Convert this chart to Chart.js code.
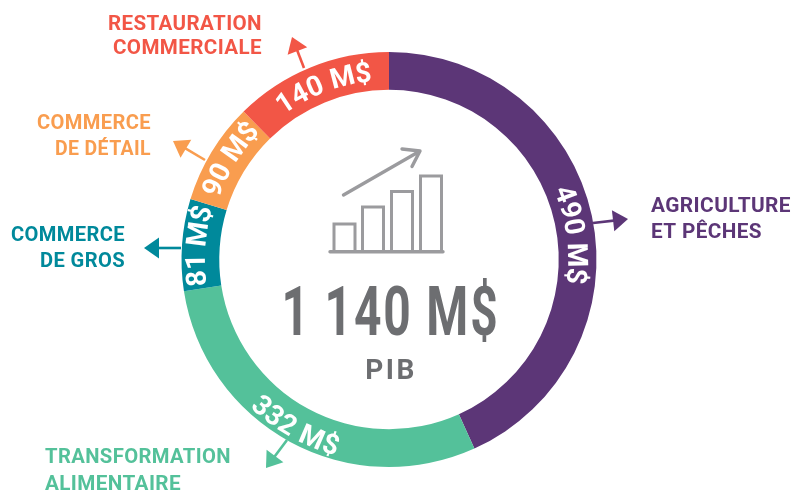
<!DOCTYPE html>
<html>
<head>
<meta charset="utf-8">
<style>
  html, body { margin: 0; background: #fff; }
  canvas { display: block; }
</style>
<script src="https://cdn.jsdelivr.net/npm/chart.js@4"></script>
</head>
<body>
<canvas id="chart-pib" width="794" height="494"></canvas>
<script>
const categories = ['Agriculture et pêches', 'Transformation alimentaire', 'Commerce de gros', 'Commerce de détail', 'Restauration commerciale'];
const values = [490, 332, 81, 90, 140];
const valueLabels = ['490 M$', '332 M$', '81 M$', '90 M$', '140 M$'];
const sliceColors = ['#5c3677', '#54c19a', '#00899b', '#f99d4f', '#f25646'];

const FONT = 'Roboto, sans-serif';

// settings for the text that follows the ring, same order as the values
const arcText = [
  { shift: 4.5, radius: 189, size: 28, gap: 0.8, inward: false },
  { shift: 0.8, radius: 193, size: 28, gap: 0, inward: true },
  { shift: 0, radius: 194, size: 28, gap: 0.4, inward: false },
  { shift: 1, radius: 191, size: 28, gap: 0.6, inward: false },
  { shift: 1.5, radius: 189, size: 28, gap: 1.0, inward: false }
];

// widths are the widest each line may get, the font runs a bit wider than the original
const sideLabels = [
  { lines: ['AGRICULTURE', 'ET PÊCHES'], widths: [140, 111], x: 651, y: [212, 238], align: 'left', color: sliceColors[0], arrow: [593, 223, 628, 219] },
  { lines: ['TRANSFORMATION', 'ALIMENTAIRE'], widths: [186, 136], x: 45, y: [463, 490], align: 'left', color: sliceColors[1], arrow: [287, 440, 266, 468] },
  { lines: ['COMMERCE', 'DE GROS'], widths: [114, 85], x: 125, y: [241, 267], align: 'right', color: sliceColors[2], arrow: [181, 248, 144, 248] },
  { lines: ['COMMERCE', 'DE DÉTAIL'], widths: [114, 96], x: 151, y: [129, 155], align: 'right', color: sliceColors[3], arrow: [205, 160, 173, 141] },
  { lines: ['RESTAURATION', 'COMMERCIALE'], widths: [154, 149], x: 262, y: [30, 54], align: 'right', color: sliceColors[4], arrow: [304, 68, 292, 37] }
];

function drawArrow(ctx, [x1, y1, x2, y2], color) {
  const a = Math.atan2(y2 - y1, x2 - x1);
  ctx.save();
  ctx.strokeStyle = color;
  ctx.fillStyle = color;
  ctx.lineWidth = 2.6;
  ctx.beginPath();
  ctx.moveTo(x1, y1);
  ctx.lineTo(x2 - 10 * Math.cos(a), y2 - 10 * Math.sin(a));
  ctx.stroke();
  ctx.translate(x2, y2);
  ctx.rotate(a);
  ctx.beginPath();
  ctx.moveTo(0, 0);
  ctx.lineTo(-15, -10.5);
  ctx.lineTo(-15, 10.5);
  ctx.closePath();
  ctx.fill();
  ctx.restore();
}

function drawArcText(ctx, arc, text, cfg) {
  const mid = (arc.startAngle + arc.endAngle) / 2 + Math.PI / 2 + cfg.shift * Math.PI / 180;
  ctx.save();
  ctx.font = `700 ${cfg.size}px ${FONT}`;
  ctx.fillStyle = '#fff';
  ctx.textAlign = 'center';
  ctx.textBaseline = 'alphabetic';
  const widths = [...text].map(c => ctx.measureText(c).width + cfg.gap);
  const total = widths.reduce((a, b) => a + b, 0);
  let run = -total / 2;
  [...text].forEach((c, i) => {
    const along = (run + widths[i] / 2) / cfg.radius;
    const angle = cfg.inward ? mid - along : mid + along;
    ctx.save();
    ctx.translate(arc.x, arc.y);
    ctx.rotate(angle);
    ctx.translate(0, -cfg.radius);
    if (cfg.inward) ctx.rotate(Math.PI);
    ctx.fillText(c, 0, cfg.size * 0.355);
    ctx.restore();
    run += widths[i];
  });
  ctx.restore();
}

function drawIcon(ctx) {
  ctx.save();
  ctx.strokeStyle = '#9b9b9e';
  ctx.lineWidth = 3;
  [[334, 224, 21], [362.5, 207, 21], [391.5, 191.5, 21], [420.5, 176, 21]].forEach(([x, y, w]) => {
    ctx.beginPath();
    ctx.moveTo(x, 251);
    ctx.lineTo(x, y);
    ctx.lineTo(x + w, y);
    ctx.lineTo(x + w, 251);
    ctx.stroke();
  });
  ctx.lineCap = 'round';
  ctx.lineJoin = 'round';
  ctx.lineWidth = 3.4;
  ctx.beginPath();
  ctx.moveTo(330, 251.7);
  ctx.lineTo(443, 251.7);
  ctx.moveTo(343.5, 195);
  ctx.lineTo(420, 151);
  ctx.moveTo(402, 149);
  ctx.lineTo(420, 151);
  ctx.lineTo(412, 166.5);
  ctx.stroke();
  ctx.restore();
}

const overlay = {
  id: 'overlay',
  afterDatasetsDraw(chart) {
    const ctx = chart.ctx;
    chart.getDatasetMeta(0).data.forEach((arc, i) => {
      drawArcText(ctx, arc, valueLabels[i], arcText[i]);
    });

    ctx.save();
    ctx.textBaseline = 'alphabetic';
    sideLabels.forEach(item => {
      drawArrow(ctx, item.arrow, item.color);
      ctx.font = `700 21px ${FONT}`;
      ctx.fillStyle = item.color;
      ctx.textAlign = item.align;
      ctx.letterSpacing = '0.4px';
      item.lines.forEach((line, k) => ctx.fillText(line, item.x, item.y[k], item.widths[k]));
    });

    ctx.fillStyle = '#6d6e71';
    ctx.textAlign = 'center';
    ctx.letterSpacing = '2.6px';
    ctx.font = `700 68px ${FONT}`;
    ctx.fillText('1 140 M$', 390.5, 335, 218);
    ctx.letterSpacing = '2.5px';
    ctx.font = `700 28px ${FONT}`;
    ctx.fillText('PIB', 391, 379);
    ctx.restore();

    drawIcon(ctx);
  }
};

new Chart(document.getElementById('chart-pib'), {
  type: 'doughnut',
  data: {
    labels: categories,
    datasets: [{ data: values, backgroundColor: sliceColors, borderWidth: 0 }]
  },
  options: {
    responsive: false,
    animation: false,
    cutout: '81.8%',
    layout: { padding: { left: 181, right: 197, top: 52, bottom: 27 } },
    plugins: { legend: { display: false }, tooltip: { enabled: false } }
  },
  plugins: [overlay]
});
</script>
</body>
</html>
